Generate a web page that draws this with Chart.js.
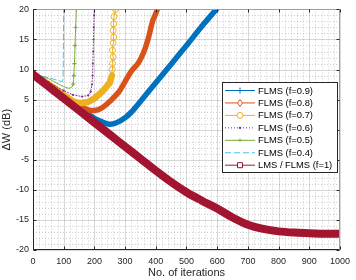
<!DOCTYPE html>
<html>
<head>
<meta charset="utf-8">
<script src="https://cdn.jsdelivr.net/npm/chart.js@4.4.0/dist/chart.umd.min.js"></script>
<style>
html,body{margin:0;padding:0;background:#fff;}
#wrap{width:356px;height:280px;}
</style>
</head>
<body>
<div id="wrap"><canvas id="c" width="356" height="280"></canvas></div>
<script>
// ======================= DATA =======================
const seriesLabels=['FLMS (f=0.9)','FLMS (f=0.8)','FLMS (f=0.7)','FLMS (f=0.6)','FLMS (f=0.5)','FLMS (f=0.4)','LMS / FLMS (f=1)'];

const iterF09=[0,50,100,150,200,230,250,270,300,320,350,400,450,500,550,597];
const dbF09  =[9.2,7.3,5.4,3.6,1.9,1.2,0.9,1.1,2.0,2.9,4.7,7.8,10.9,14.0,17.2,20.0];

const iterF08=[0,50,100,150,180,200,220,250,280,300,320,342,360,374,390,400,406];
const dbF08  =[9.2,7.4,5.6,4.0,3.3,3.2,3.5,4.7,6.3,8.0,9.7,11.0,12.8,14.9,18.1,19.3,20.2];

const iterF07=[0,50,100,130,150,180,200,225,250,257,258,259,261,259,261,263,261,263,264,269];
const dbF07  =[9.2,7.6,5.8,4.7,4.4,4.6,5.2,6.3,7.8,9.0,10.0,11.0,12.1,13.2,14.4,15.4,16.5,17.6,18.8,20.0];

const iterF06=[0,50,100,130,160,180,188,192,194,195,196,197,198,199,200];
const dbF06  =[9.2,7.9,6.5,5.8,5.5,5.7,6.3,7.5,9.0,11.0,13.0,15.0,17.0,19.0,20.0];

const iterF05=[0,50,90,115,125,131,133,135,137,139,141];
const dbF05  =[9.2,8.5,7.4,6.9,7.0,7.6,9.0,11.0,14.0,17.0,20.0];

const iterF04=[0,30,55,80,96,98,99,100];
const dbF04  =[9.2,8.9,8.6,8.2,8.0,8.4,14.0,20.0];

const iterLMS=[0,50,100,150,200,250,300,350,400,450,500,550,600,650,700,750,800,850,900,950,1000];
const dbLMS  =[9.2,7.2,5.2,3.2,1.2,-0.8,-2.8,-4.8,-6.8,-8.7,-10.4,-11.8,-13.1,-14.6,-15.8,-16.5,-16.9,-17.1,-17.2,-17.3,-17.3];

// ======================= STYLE =======================
const FONT='"Liberation Sans", Arial, Helvetica, sans-serif';
const INK='#262626';
const colors=['#0072BD','#D95319','#EDB120','#7E2F8E','#77AC30','#4DBEEE','#A2142F'];

function pts(xs,ys){return xs.map((x,i)=>({x:x,y:ys[i]}));}

const seriesData=[pts(iterF09,dbF09),pts(iterF08,dbF08),pts(iterF07,dbF07),pts(iterF06,dbF06),pts(iterF05,dbF05),pts(iterF04,dbF04),pts(iterLMS,dbLMS)];
// band width, dash, legend marker
const lineW=[5.5,5.5,6.5,1,1,1,8];
const dashes=[[],[],[],[1,2],[],[6,3],[]];
const markers=['cross','rectRot','circle','dot','cross','none','rect'];
// the f=0.7 curve turns into a thin line of circles once it blows up
const F07_BLOWUP=10;

const datasets=seriesData.map((d,i)=>{
  const ds={
    label:seriesLabels[i],
    data:d,
    borderColor:colors[i],
    backgroundColor:colors[i],
    borderWidth:lineW[i],
    borderDash:dashes[i],
    borderJoinStyle:'round',
    borderCapStyle:'round',
    pointRadius:0,
    pointBorderWidth:1,
    tension:0.25,
    fill:false,
    order:6-i
  };
  if(i===6){ds.cubicInterpolationMode='monotone';}
  if(i===2){
    ds.tension=0;
    ds.segment={borderWidth:c=>c.p0DataIndex>=F07_BLOWUP-1?1:lineW[2]};
    ds.pointStyle='circle';
    ds.pointRadius=c=>c.dataIndex>=F07_BLOWUP?3:0;
    ds.pointBorderColor=colors[2];
    ds.pointBackgroundColor='rgba(0,0,0,0)';
  }
  if(i===1){
    ds.pointStyle='rectRot';
    ds.pointRadius=c=>c.dataIndex===d.length-1?3.5:0;
    ds.pointBorderColor=colors[1];
    ds.pointBackgroundColor='rgba(0,0,0,0)';
  }
  if(i===3){
    ds.tension=0;
    ds.pointStyle='circle';ds.pointRadius=1.1;ds.pointBorderWidth=0;
  }
  if(i===4){
    ds.tension=0.15;
    ds.pointStyle='cross';ds.pointRadius=c=>c.dataIndex>=5?2:0;
  }
  if(i===5){ds.tension=0;}
  return ds;
});

// ======================= AXES DECOR (MATLAB look) =======================
const axesDecor={
  id:'axesDecor',
  beforeDatasetsDraw(chart){
    const {ctx,chartArea:a,scales:{x,y}}=chart;
    ctx.save();
    ctx.lineWidth=1;
    // minor grid
    ctx.strokeStyle='rgba(38,38,38,0.22)';
    ctx.setLineDash([1,2]);
    ctx.beginPath();
    for(let v=20;v<1000;v+=20){if(v%100===0)continue;const px=Math.round(x.getPixelForValue(v))+0.5;ctx.moveTo(px,a.top);ctx.lineTo(px,a.bottom);}
    for(let v=-19;v<20;v+=1){if(v%5===0)continue;const py=Math.round(y.getPixelForValue(v))+0.5;ctx.moveTo(a.left,py);ctx.lineTo(a.right,py);}
    ctx.stroke();
    // major grid
    ctx.strokeStyle='rgba(38,38,38,0.18)';
    ctx.setLineDash([]);
    ctx.beginPath();
    x.ticks.forEach(t=>{const px=Math.round(x.getPixelForValue(t.value))+0.5;ctx.moveTo(px,a.top);ctx.lineTo(px,a.bottom);});
    y.ticks.forEach(t=>{const py=Math.round(y.getPixelForValue(t.value))+0.5;ctx.moveTo(a.left,py);ctx.lineTo(a.right,py);});
    ctx.stroke();
    ctx.restore();
  },
  afterDatasetsDraw(chart){
    const {ctx,chartArea:a,scales:{x,y}}=chart;
    ctx.save();
    ctx.lineWidth=1;ctx.setLineDash([]);
    const L=Math.round(a.left)+0.5,R=Math.round(a.right)-0.5,T=Math.round(a.top)+0.5,B=Math.round(a.bottom)-0.5;
    ctx.strokeStyle='#a0a0a0';
    ctx.beginPath();
    ctx.moveTo(L,T);ctx.lineTo(R,T);ctx.lineTo(R,B);
    ctx.stroke();
    ctx.strokeStyle=INK;
    ctx.beginPath();
    ctx.moveTo(R,B);ctx.lineTo(L,B);ctx.lineTo(L,T);
    x.ticks.forEach(t=>{const px=Math.round(x.getPixelForValue(t.value))+0.5;ctx.moveTo(px,B);ctx.lineTo(px,B-3);ctx.moveTo(px,T);ctx.lineTo(px,T+3);});
    y.ticks.forEach(t=>{const py=Math.round(y.getPixelForValue(t.value))+0.5;ctx.moveTo(L,py);ctx.lineTo(L+3,py);ctx.moveTo(R,py);ctx.lineTo(R-3,py);});
    ctx.stroke();
    ctx.restore();
  }
};

// ======================= LEGEND BOX =======================
function drawMarker(ctx,style,x,y,r,color){
  ctx.save();
  ctx.strokeStyle=color;ctx.fillStyle=color;ctx.lineWidth=1;ctx.setLineDash([]);
  ctx.beginPath();
  if(style==='cross'){ctx.moveTo(x-r,y);ctx.lineTo(x+r,y);ctx.moveTo(x,y-r);ctx.lineTo(x,y+r);ctx.stroke();}
  else if(style==='rectRot'){ctx.moveTo(x,y-r);ctx.lineTo(x+r*0.7,y);ctx.lineTo(x,y+r);ctx.lineTo(x-r*0.7,y);ctx.closePath();ctx.fillStyle='#fff';ctx.fill();ctx.stroke();}
  else if(style==='circle'){ctx.arc(x,y,r,0,Math.PI*2);ctx.fillStyle='#fff';ctx.fill();ctx.stroke();}
  else if(style==='rect'){ctx.rect(x-r,y-r,2*r,2*r);ctx.fillStyle='#fff';ctx.fill();ctx.stroke();}
  else if(style==='dot'){ctx.arc(x,y,r,0,Math.PI*2);ctx.fill();}
  ctx.restore();
}
const boxLegend={
  id:'boxLegend',
  afterDraw(chart){
    const ctx=chart.ctx;
    const bx=222.5,by=82.5,bw=115,bh=90;
    ctx.save();
    ctx.fillStyle='#fff';ctx.fillRect(bx,by,bw,bh);
    ctx.strokeStyle=INK;ctx.lineWidth=1;ctx.strokeRect(bx,by,bw,bh);
    ctx.font='9.4px '+FONT;ctx.textBaseline='middle';
    const mr={cross:3,rectRot:3.5,circle:3,dot:1.2,rect:2.5};
    chart.data.datasets.forEach((ds,i)=>{
      const yy=90.5+i*12.45;
      ctx.save();
      ctx.strokeStyle=colors[i];ctx.lineWidth=1;ctx.setLineDash(dashes[i]);
      ctx.beginPath();ctx.moveTo(225,yy);ctx.lineTo(255,yy);ctx.stroke();
      ctx.restore();
      if(markers[i]!=='none')drawMarker(ctx,markers[i],240,yy,i===4?1.5:mr[markers[i]],colors[i]);
      ctx.fillStyle='#000';
      ctx.fillText(ds.label,258,yy+0.5);
    });
    ctx.restore();
  }
};

// ======================= CHART =======================
new Chart(document.getElementById('c').getContext('2d'),{
  type:'line',
  data:{datasets},
  options:{
    responsive:false,
    animation:false,
    devicePixelRatio:1,
    layout:{padding:{top:5,right:11,left:0,bottom:0}},
    plugins:{legend:{display:false},tooltip:{enabled:false}},
    scales:{
      x:{
        type:'linear',min:0,max:1000,
        ticks:{stepSize:100,font:{family:FONT,size:9},color:INK,padding:6,maxRotation:0,autoSkip:false,callback:v=>String(v)},
        grid:{display:false,drawTicks:false},
        border:{display:false},
        title:{display:true,text:'No. of iterations',font:{family:FONT,size:11},color:INK,padding:0},
        afterFit(s){s.height=30;}
      },
      y:{
        type:'linear',min:-20,max:20,
        ticks:{stepSize:5,font:{family:FONT,size:9},color:INK,padding:4,callback:v=>String(v)},
        grid:{display:false,drawTicks:false},
        border:{display:false},
        title:{display:true,text:'ΔW (dB)',font:{family:FONT,size:11},color:INK,padding:0},
        afterFit(s){s.width=33;}
      }
    }
  },
  plugins:[axesDecor,boxLegend]
});
</script>
</body>
</html>
